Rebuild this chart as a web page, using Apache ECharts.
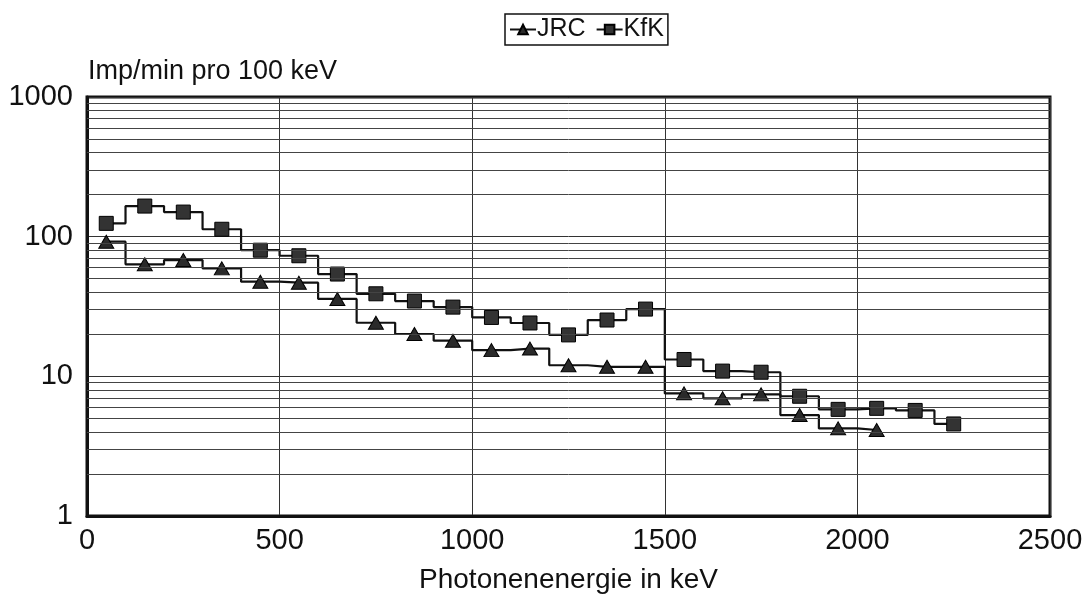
<!DOCTYPE html>
<html>
<head>
<meta charset="utf-8">
<script src="https://cdn.jsdelivr.net/npm/echarts@6/dist/echarts.min.js"></script>
<style>
html,body{margin:0;padding:0;background:#fff;}
#chart{width:1089px;height:601px;}
</style>
</head>
<body>
<div id="chart"></div>
<script>
const energies = [50,150,250,350,450,550,650,750,850,950,1050,1150,1250,1350,1450,1550,1650,1750,1850,1950,2050,2150,2250];
const jrc = [92,63.4,68,59.3,47.6,46.8,35.8,24.2,20.1,18,15.4,15.8,12,11.7,11.7,7.55,6.96,7.43,5.28,4.24,4.13];
const kfk = [124.5,165.6,150,113,80,73,54,39,34.6,31.3,26.4,24.1,19.8,25.3,30.3,13.2,10.9,10.7,7.2,5.8,5.9,5.7,4.56];
const minorGridValues = [2,3,4,5,6,7,8,9,20,30,40,50,60,70,80,90,200,300,400,500,600,700,800,900];
const xTicks = [0,500,1000,1500,2000,2500];
const yTicks = [1,10,100,1000];

const font = '"Liberation Sans", Arial, sans-serif';
const chart = echarts.init(document.getElementById('chart'));

function pairs(vals){ return vals.map((v,i)=>[energies[i], v]); }

chart.setOption({
  animation: false,
  backgroundColor: '#fff',
  textStyle: {fontFamily: font, color: '#111'},
  legend: {
    top: 14, left: 505,
    data: ['JRC','KfK'],
    borderColor: '#111', borderWidth: 1.5, padding: [3,4,3,4],
    itemWidth: 26, itemHeight: 12, itemGap: 10,
    textStyle: {fontFamily: font, fontSize: 25, color: '#111', padding: [0,0,0,-4]}
  },
  grid: {left: 87, right: 39, top: 97, bottom: 85, show: true, borderColor: '#111', borderWidth: 3, backgroundColor: 'transparent'},
  xAxis: {
    type: 'value', min: 0, max: 2500, interval: 500,
    name: 'Photonenenergie in keV', nameLocation: 'middle', nameGap: 50,
    nameTextStyle: {fontFamily: font, fontSize: 28, color: '#111'},
    axisLine: {show: true, lineStyle: {color: '#111', width: 3}},
    axisTick: {show: false},
    axisLabel: {fontFamily: font, fontSize: 29, color: '#111', margin: 10,
      formatter: v => xTicks.includes(v) ? String(v) : ''},
    splitLine: {show: true, lineStyle: {color: '#333', width: 1}}
  },
  yAxis: {
    type: 'log', logBase: 10, min: 1, max: 1000,
    name: 'Imp/min pro 100 keV', nameLocation: 'end', nameGap: 12,
    nameTextStyle: {fontFamily: font, fontSize: 27, color: '#111', align: 'left', verticalAlign: 'bottom', padding: [0,0,0,1]},
    axisLine: {show: true, lineStyle: {color: '#111', width: 3}},
    axisTick: {show: false},
    axisLabel: {fontFamily: font, fontSize: 29, color: '#111', margin: 14,
      formatter: v => yTicks.includes(Math.round(v)) ? String(Math.round(v)) : ''},
    splitLine: {show: true, lineStyle: {color: '#333', width: 1}}
  },
  series: [
    {
      name: 'JRC', type: 'line', step: 'middle',
      data: pairs(jrc),
      symbol: 'triangle', symbolSize: [15,13],
      itemStyle: {color: '#2a2a2a', borderColor: '#000', borderWidth: 1},
      lineStyle: {color: '#111', width: 2.2},
      markLine: {
        silent: true, symbol: 'none', label: {show: false},
        lineStyle: {color: '#444', width: 1, type: 'solid'},
        data: minorGridValues.map(v => ({yAxis: v}))
      },
      z: 3
    },
    {
      name: 'KfK', type: 'line', step: 'middle',
      data: pairs(kfk),
      symbol: 'rect', symbolSize: 14,
      itemStyle: {color: '#333', borderColor: '#000', borderWidth: 1},
      lineStyle: {color: '#111', width: 2.2},
      z: 3
    }
  ]
});
</script>
</body>
</html>
